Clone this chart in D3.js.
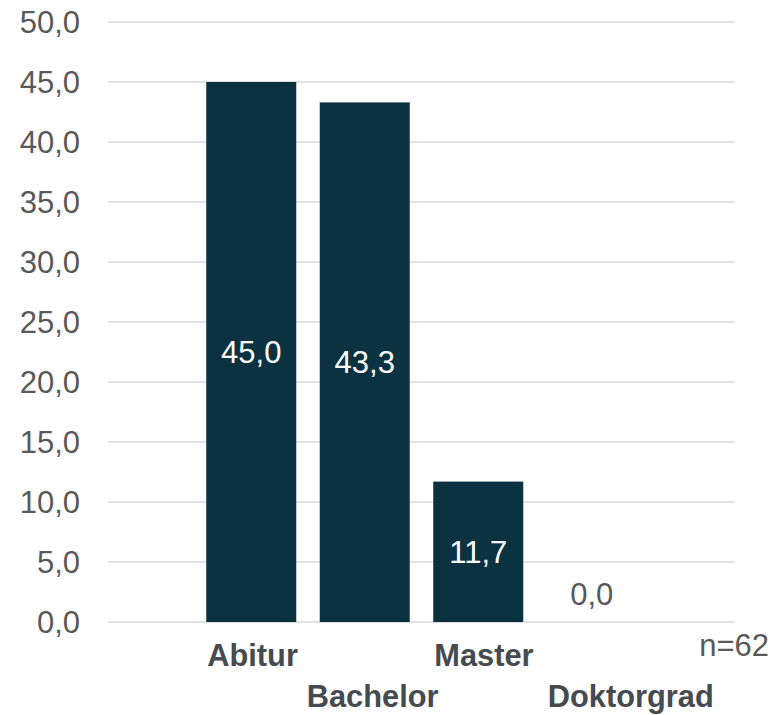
<!DOCTYPE html>
<html>
<head>
<meta charset="utf-8">
<script src="https://cdn.jsdelivr.net/npm/d3@7"></script>
<style>
    body { margin: 0; background: #fff; }
    text { font-family: "Liberation Sans", Arial, sans-serif; }
</style>
</head>
<body>
<div id="chart"></div>
<script>
var categories = ["Abitur", "Bachelor", "Master", "Doktorgrad"];
var values = [45.0, 43.3, 11.7, 0.0];
var yTicks = [0, 5, 10, 15, 20, 25, 30, 35, 40, 45, 50];
var sampleNote = "n=62";

var width = 774, height = 715;
var barColor = "#0b3241";
var tickColor = "#595959";
var labelColor = "#454b50";

var svg = d3.select("#chart").append("svg")
    .attr("width", width)
    .attr("height", height);

var y = d3.scaleLinear().domain([0, 50]).range([622, 22]);
var x = d3.scaleBand().domain(categories)
    .range([194.5, 648.5])
    .paddingInner(0.207)
    .paddingOuter(0.1035);

var fmt = function (v) { return d3.format(".1f")(v).replace(".", ","); };

// gridlines
svg.append("g").selectAll("line").data(yTicks).enter().append("line")
    .attr("x1", 108).attr("x2", 735)
    .attr("y1", function (d) { return y(d); })
    .attr("y2", function (d) { return y(d); })
    .attr("stroke", "#d9d9d9")
    .attr("stroke-width", 1.5);

// y tick labels
svg.append("g").selectAll("text").data(yTicks).enter().append("text")
    .attr("x", 80)
    .attr("y", function (d) { return y(d); })
    .attr("dy", "0.35em")
    .attr("text-anchor", "end")
    .attr("fill", tickColor)
    .style("font-size", "31px")
    .text(fmt);

// bars
svg.append("g").selectAll("rect").data(values).enter().append("rect")
    .attr("x", function (d, i) { return x(categories[i]); })
    .attr("width", x.bandwidth())
    .attr("y", function (d) { return y(d); })
    .attr("height", function (d) { return y(0) - y(d); })
    .attr("fill", barColor);

// value labels
svg.append("g").selectAll("text").data(values).enter().append("text")
    .attr("x", function (d, i) { return x(categories[i]) + x.bandwidth() / 2; })
    .attr("y", function (d) { return d > 0 ? (y(d) + y(0)) / 2 : y(0) - 17; })
    .attr("dy", function (d) { return d > 0 ? "0.35em" : "0"; })
    .attr("text-anchor", "middle")
    .attr("fill", function (d) { return d > 0 ? "#ffffff" : tickColor; })
    .style("font-size", "31px")
    .text(fmt);

// category labels, staggered over two rows
svg.append("g").selectAll("text").data(categories).enter().append("text")
    .attr("x", function (d, i) { return x(d) + (i === 1 ? -13 : 1); })
    .attr("y", function (d, i) { return i % 2 === 0 ? 666 : 707; })
    .attr("text-anchor", "start")
    .attr("fill", labelColor)
    .style("font-size", "30.8px")
    .style("font-weight", "bold")
    .text(function (d) { return d; });

svg.append("text")
    .attr("x", 769)
    .attr("y", 656)
    .attr("text-anchor", "end")
    .attr("fill", tickColor)
    .style("font-size", "31px")
    .text(sampleNote);
</script>
</body>
</html>
